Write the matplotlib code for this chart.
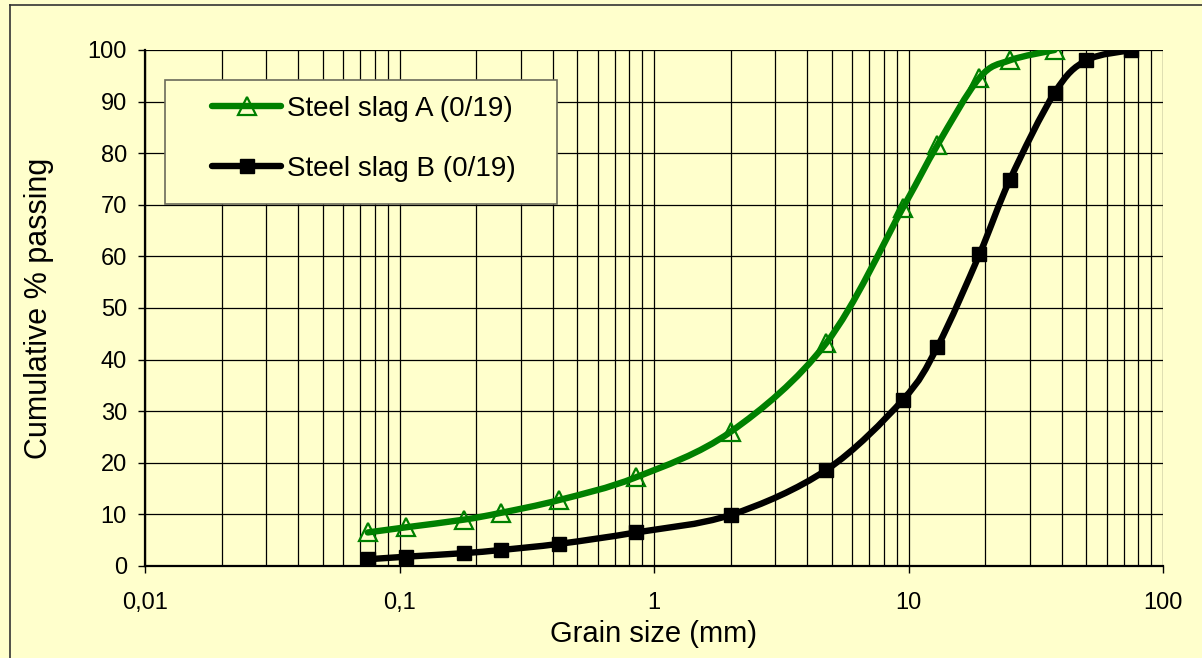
import numpy as np
import matplotlib
matplotlib.use("Agg")
import matplotlib.pyplot as plt
from matplotlib.path import Path
from matplotlib.patches import PathPatch, Rectangle
from matplotlib.lines import Line2D
from matplotlib.ticker import FixedLocator, NullFormatter, FixedFormatter

plt.rcParams['font.family'] = ['Liberation Sans', 'DejaVu Sans']

# sieve sizes (mm) and cumulative % passing
SIZE_A = [0.075, 0.106, 0.18, 0.25, 0.425, 0.85, 2.0, 4.75, 9.5, 13.0, 19.0, 25.0, 37.5]
PASS_A = [6.5, 7.5, 9.0, 10.3, 12.8, 17.2, 26.0, 43.2, 69.4, 81.6, 94.6, 98.0, 100.0]
SIZE_B = [0.075, 0.106, 0.18, 0.25, 0.425, 0.85, 2.0, 4.75, 9.5, 13.0, 19.0, 25.0, 37.5, 50.0, 75.0]
PASS_B = [1.3, 1.8, 2.5, 3.1, 4.3, 6.5, 9.9, 18.6, 32.2, 42.5, 60.4, 74.8, 91.7, 98.0, 100.0]
LABELS = ["Steel slag A (0/19)", "Steel slag B (0/19)"]
XTICKS = [0.01, 0.1, 1, 10, 100]
XTICKLABELS = ["0,01", "0,1", "1", "10", "100"]

BG = "#FFFFCC"
GREEN = "#008000"


def smooth_path(xs, ys):
    # excel-like smoothed line: bezier through the points in log-x space
    lx = np.log10(xs)
    y = np.asarray(ys, float)
    n = len(lx)
    verts = [(xs[0], y[0])]
    codes = [Path.MOVETO]
    for i in range(n - 1):
        i0 = max(i - 1, 0)
        i3 = min(i + 2, n - 1)
        c1x = lx[i] + (lx[i + 1] - lx[i0]) / 6
        c1y = y[i] + (y[i + 1] - y[i0]) / 6
        c2x = lx[i + 1] - (lx[i3] - lx[i]) / 6
        c2y = y[i + 1] - (y[i3] - y[i]) / 6
        verts += [(10 ** c1x, c1y), (10 ** c2x, c2y), (xs[i + 1], y[i + 1])]
        codes += [Path.CURVE4] * 3
    return Path(verts, codes)


fig = plt.figure(figsize=(12.02, 6.58), dpi=100)
fig.patch.set_facecolor(BG)
ax = fig.add_axes([145 / 1202, 1 - 566 / 658, 1018 / 1202, 516 / 658])
ax.set_facecolor(BG)
ax.set_xscale("log")
ax.set_xlim(0.01, 100)
ax.set_ylim(0, 100)

# grid
minor = [m * 10.0 ** e for e in range(-2, 2) for m in range(2, 10)]
ax.xaxis.set_major_locator(FixedLocator(XTICKS))
ax.xaxis.set_major_formatter(FixedFormatter(XTICKLABELS))
ax.xaxis.set_minor_locator(FixedLocator(minor))
ax.xaxis.set_minor_formatter(NullFormatter())
ax.set_yticks(np.arange(0, 101, 10))
ax.grid(True, which="both", axis="x", color="black", lw=0.9)
ax.grid(True, which="major", axis="y", color="black", lw=0.9)
ax.set_axisbelow(True)

ax.tick_params(axis="both", which="major", direction="out", length=5, width=1,
               labelsize=17, color="black")
ax.tick_params(axis="x", which="major", pad=14)
ax.tick_params(axis="y", which="major", pad=8)
ax.tick_params(axis="x", which="minor", length=0)
for s in ["top", "right"]:
    ax.spines[s].set_visible(False)
for s in ["left", "bottom"]:
    ax.spines[s].set_linewidth(1.6)

ax.set_xlabel("Grain size (mm)", fontsize=21, labelpad=4)
ax.set_ylabel("Cumulative % passing", fontsize=22, labelpad=24)

lw = 4.6
ax.add_patch(PathPatch(smooth_path(SIZE_A, PASS_A), fill=False, ec=GREEN, lw=lw,
                       capstyle="round", joinstyle="round", zorder=3))
ax.plot(SIZE_A, PASS_A, ls="none", marker="^", ms=12.5, mfc="none", mec=GREEN,
        mew=1.6, zorder=4)
ax.add_patch(PathPatch(smooth_path(SIZE_B, PASS_B), fill=False, ec="black", lw=lw,
                       capstyle="round", joinstyle="round", zorder=3))
ax.plot(SIZE_B, PASS_B, ls="none", marker="s", ms=10.5, mfc="black", mec="black",
        mew=1, zorder=4)

# legend box
fig.patches.append(Rectangle((165 / 1202, 1 - 204 / 658), 392 / 1202, 124 / 658,
                             transform=fig.transFigure, fc=BG, ec="#6b6b5a",
                             lw=1.2, zorder=5))
h_a = Line2D([], [], color=GREEN, lw=lw, marker="^", ms=12.5, mfc="none",
             mec=GREEN, mew=1.6, solid_capstyle="round")
h_b = Line2D([], [], color="black", lw=lw, marker="s", ms=10.5, mfc="black",
             mec="black", solid_capstyle="round")
leg = fig.legend([h_a, h_b], LABELS, loc="upper left",
                 bbox_to_anchor=(212 / 1202, 1 - 96 / 658), frameon=False,
                 fontsize=20, handlelength=2.5, handletextpad=0.2,
                 borderpad=0, borderaxespad=0, labelspacing=1.22, numpoints=1)
leg.set_zorder(6)

# figure border (left and top edges)
fig.add_artist(Line2D([10.5 / 1202, 10.5 / 1202], [0, 1 - 4.5 / 658],
                      transform=fig.transFigure, color="#333333", lw=1.2))
fig.add_artist(Line2D([10.5 / 1202, 1], [1 - 4.5 / 658, 1 - 4.5 / 658],
                      transform=fig.transFigure, color="#333333", lw=1.2))

fig.savefig("out.png", dpi=100, facecolor=BG)
